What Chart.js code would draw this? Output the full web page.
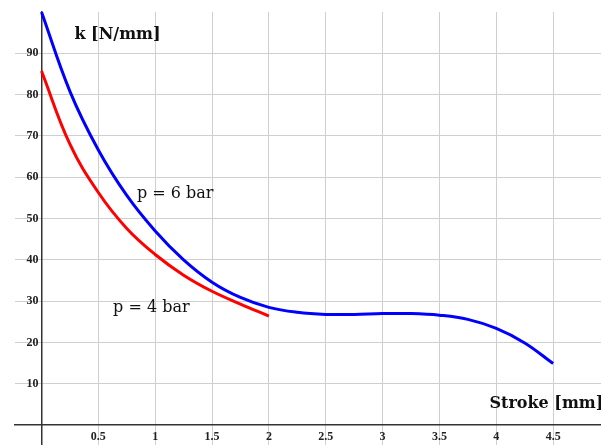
<!DOCTYPE html>
<html>
<head>
<meta charset="utf-8">
<title>Spring stiffness vs stroke</title>
<script src="https://cdn.jsdelivr.net/npm/chart.js@4.4.1/dist/chart.umd.min.js"></script>
<style>
  html, body { margin: 0; padding: 0; background: #fff; }
  #wrap { width: 601px; height: 445px; }
</style>
</head>
<body>
<div id="wrap"><canvas id="stiffness"></canvas></div>
<script>
// stroke [mm] and stiffness k [N/mm] for both pressures
var stroke6 = [0, 0.25, 0.5, 0.75, 1, 1.25, 1.5, 1.75, 2, 2.25, 2.5, 2.75, 3, 3.25, 3.5, 3.75, 4, 4.25, 4.5];
var k6 = [100, 80.8, 66.6, 55.6, 47, 40, 34.6, 30.9, 28.5, 27.3, 26.8, 26.8, 27, 27, 26.6, 25.6, 23.4, 19.9, 14.9];
var stroke4 = [0, 0.25, 0.5, 0.75, 1, 1.25, 1.5, 1.75, 2];
var k4 = [85.7, 68, 56.3, 47.6, 41.3, 36.3, 32.4, 29.3, 26.4];

var xTicks = [0.5, 1, 1.5, 2, 2.5, 3, 3.5, 4, 4.5];
var yTicks = [10, 20, 30, 40, 50, 60, 70, 80, 90];

function toPoints(xs, ys){
  var pts = [];
  for(var i=0;i<xs.length;i++){
    pts.push({x: xs[i], y: ys[i]});
  }
  return pts;
}

// free text placed in data coordinates
var notes = [
  {text: 'k [N/mm]', x: 0.29, y: 94.5, bold: true},
  {text: 'p = 6 bar', x: 0.84, y: 56.1, bold: false},
  {text: 'p = 4 bar', x: 0.63, y: 28.3, bold: false},
  {text: 'Stroke [mm]', x: 3.94, y: 5.1, bold: true}
];

var noteLabels = {
  id: 'noteLabels',
  afterDatasetsDraw: function(chart){
    var ctx = chart.ctx;
    var xs = chart.scales.x, ys = chart.scales.y;
    ctx.save();
    ctx.fillStyle = '#111';
    ctx.textAlign = 'left';
    ctx.textBaseline = 'middle';
    for(var i=0;i<notes.length;i++){
      var n = notes[i];
      ctx.font = (n.bold ? 'bold ' : '') + '16px "DejaVu Serif"';
      ctx.fillText(n.text, xs.getPixelForValue(n.x), ys.getPixelForValue(n.y));
    }
    ctx.restore();
  }
};

var tickFont = {family: 'Liberation Serif', weight: 'bold', size: 12};

new Chart(document.getElementById('stiffness'), {
  type: 'scatter',
  data: {
    datasets: [{
      label: 'p = 6 bar',
      data: toPoints(stroke6, k6),
      showLine: true,
      borderColor: '#0000ff',
      borderWidth: 3,
      pointRadius: 0,
      tension: 0.4
    }, {
      label: 'p = 4 bar',
      data: toPoints(stroke4, k4),
      showLine: true,
      borderColor: '#ff0000',
      borderWidth: 3,
      pointRadius: 0,
      tension: 0.4
    }]
  },
  options: {
    responsive: true,
    maintainAspectRatio: false,
    animation: false,
    layout: {padding: {left: 15, top: 12, right: 0, bottom: 0}},
    plugins: {legend: {display: false}, tooltip: {enabled: false}},
    scales: {
      x: {
        type: 'linear',
        min: -0.233,
        max: 4.921,
        position: {y: 0},
        afterBuildTicks: function(s){ s.ticks = xTicks.map(function(v){ return {value: v}; }); },
        grid: {color: '#cfcfcf', lineWidth: 1, drawTicks: false},
        border: {color: '#333', width: 1.5},
        ticks: {font: tickFont, color: '#222', padding: 5, maxRotation: 0,
          callback: function(v){ return String(v); }}
      },
      y: {
        type: 'linear',
        min: -4.8,
        max: 100,
        position: {x: 0},
        afterBuildTicks: function(s){ s.ticks = yTicks.map(function(v){ return {value: v}; }); },
        grid: {color: '#cfcfcf', lineWidth: 1, drawTicks: false},
        border: {color: '#333', width: 1.5},
        // tiny line height keeps the axis from reserving room at the bottom
        ticks: {font: {family: 'Liberation Serif', weight: 'bold', size: 12, lineHeight: 0.01},
          color: '#222', padding: 0, callback: function(v){ return v + ' '; }}
      }
    }
  },
  plugins: [noteLabels]
});
</script>
</body>
</html>
